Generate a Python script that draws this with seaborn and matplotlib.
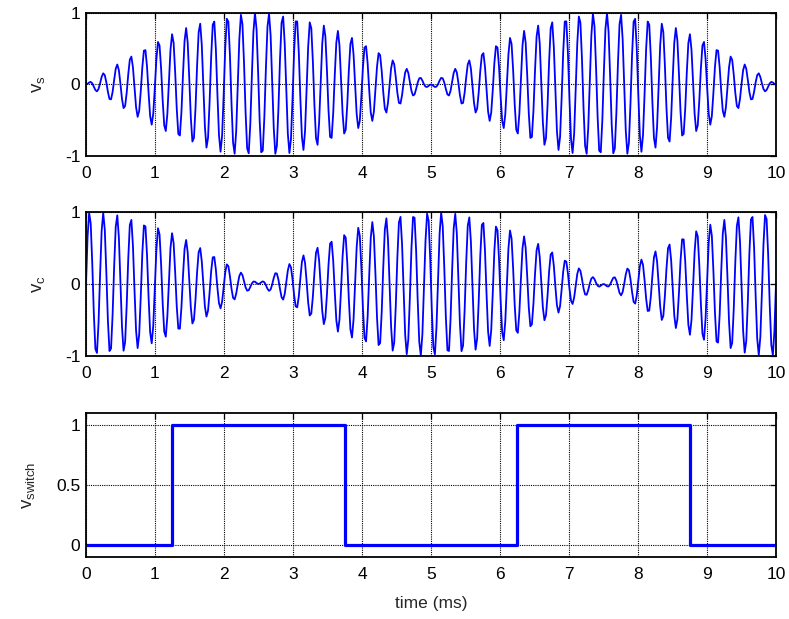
import numpy as np
import pandas as pd
import matplotlib
matplotlib.use("Agg")
import matplotlib.pyplot as plt
import seaborn as sns

# Signal parameters (time in ms, frequencies in kHz)
fs_khz = 44.1          # sample rate
carrier_khz = 5.0      # carrier frequency
mod_khz = 0.1          # modulation frequency
t_end = 10.0

# Switch transitions (ms)
switch_on = [1.25, 6.25]
switch_off = [3.75, 8.75]
switch_levels = [0, 1]

x_ticks = list(range(0, 11))
vs_ticks = [-1, 0, 1]
vsw_ticks = [0, 0.5, 1]

t = np.arange(0, t_end + 0.5 / fs_khz, 1.0 / fs_khz)
carrier = np.sin(2 * np.pi * carrier_khz * t)
vs = np.sin(2 * np.pi * mod_khz * t) * carrier
vc = np.cos(2 * np.pi * mod_khz * t) * carrier

# Step waveform of the switch
sw_t = [0.0]
sw_v = [switch_levels[0]]
for on, off in zip(switch_on, switch_off):
    sw_t += [on, on, off, off]
    sw_v += [switch_levels[0], switch_levels[1], switch_levels[1], switch_levels[0]]
sw_t.append(t_end)
sw_v.append(switch_levels[0])

df_sig = pd.DataFrame({"t": t, "vs": vs, "vc": vc})
df_sw = pd.DataFrame({"t": sw_t, "v": sw_v})

sns.set_style("white")
plt.rcParams["font.family"] = ["Liberation Sans", "DejaVu Sans"]
plt.rcParams["mathtext.default"] = "regular"
plt.rcParams["font.size"] = 12

fig = plt.figure(figsize=(7.89, 6.19), dpi=100)
left, width, height = 0.109, 0.8745, 0.2326
ax1 = fig.add_axes([left, 0.748, width, 0.231])
ax2 = fig.add_axes([left, 0.4249, width, height])
ax3 = fig.add_axes([left, 0.1002, width, height])

blue = (0, 0, 1)
sns.lineplot(data=df_sig, x="t", y="vs", ax=ax1, color=blue, lw=1.3,
             estimator=None, sort=False)
sns.lineplot(data=df_sig, x="t", y="vc", ax=ax2, color=blue, lw=1.3,
             estimator=None, sort=False)
sns.lineplot(data=df_sw, x="t", y="v", ax=ax3, color=blue, lw=2.3,
             estimator=None, sort=False)

for ax, yt, ylim in [(ax1, vs_ticks, (-1, 1)), (ax2, vs_ticks, (-1, 1)),
                     (ax3, vsw_ticks, (-0.1, 1.1))]:
    ax.set_xlim(0, 10)
    ax.set_ylim(*ylim)
    ax.set_xticks(x_ticks)
    ax.set_yticks(yt)
    ax.set_yticklabels([f"{v:g}" for v in yt])
    ax.grid(True, color="black", linestyle=(0, (1, 1)), linewidth=0.8)
    ax.set_axisbelow(True)
    ax.tick_params(direction="in", top=True, right=True, length=4,
                   width=0.9, labelsize=12.5, colors="black")
    ax.tick_params(axis="x", pad=7)
    ax.tick_params(axis="y", pad=4)
    for s in ax.spines.values():
        s.set_visible(True)
        s.set_color("black")
        s.set_linewidth(1.3)
    ax.set_xlabel("")

ax1.set_ylabel("$v_s$", fontsize=13.5)
ax2.set_ylabel("$v_c$", fontsize=13.5)
ax3.set_ylabel("$v_{switch}$", fontsize=13.5)
ax1.yaxis.set_label_coords(-0.056, 0.5)
ax2.yaxis.set_label_coords(-0.056, 0.5)
ax3.yaxis.set_label_coords(-0.071, 0.5)
ax3.set_xlabel("time (ms)", fontsize=12.5, labelpad=10)

fig.savefig("out.png", dpi=100, facecolor="white")
